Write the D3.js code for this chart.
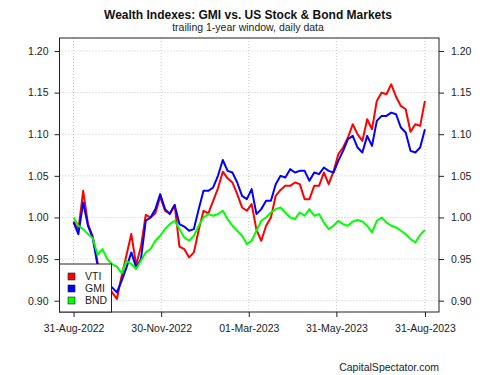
<!DOCTYPE html>
<html>
<head>
<meta charset="utf-8">
<script src="https://cdn.jsdelivr.net/npm/d3@7"></script>
<style>
  body { margin: 0; background: #fff; }
  svg { font-family: "Liberation Sans", Arial, sans-serif; }
</style>
</head>
<body>
<div id="chart-area"></div>
<script>
// Data (~5-day spacing)
var dates = [
  "2022-08-31","2022-09-05","2022-09-10","2022-09-15","2022-09-20","2022-09-25","2022-09-30",
  "2022-10-05","2022-10-10","2022-10-15","2022-10-20","2022-10-25","2022-10-30",
  "2022-11-04","2022-11-09","2022-11-14","2022-11-19","2022-11-24","2022-11-29",
  "2022-12-04","2022-12-09","2022-12-14","2022-12-19","2022-12-24","2022-12-29",
  "2023-01-03","2023-01-08","2023-01-13","2023-01-18","2023-01-23","2023-01-28",
  "2023-02-02","2023-02-07","2023-02-12","2023-02-17","2023-02-22","2023-02-27",
  "2023-03-04","2023-03-09","2023-03-14","2023-03-19","2023-03-24","2023-03-29",
  "2023-04-03","2023-04-08","2023-04-13","2023-04-18","2023-04-23","2023-04-28",
  "2023-05-03","2023-05-08","2023-05-13","2023-05-18","2023-05-23","2023-05-28",
  "2023-06-02","2023-06-07","2023-06-12","2023-06-17","2023-06-22","2023-06-27",
  "2023-07-02","2023-07-07","2023-07-12","2023-07-17","2023-07-22","2023-07-27",
  "2023-08-01","2023-08-06","2023-08-11","2023-08-16","2023-08-21","2023-08-26",
  "2023-08-31"
];

var vti = [
  0.995,0.985,1.032,0.992,0.977,0.945,0.930,
  0.920,0.910,0.902,0.930,0.955,0.980,
  0.943,0.965,1.003,1.000,1.005,1.025,
  1.008,1.005,1.015,0.965,0.962,0.952,
  0.958,0.985,1.008,1.005,1.020,1.035,
  1.055,1.047,1.042,1.028,1.012,1.008,
  1.016,0.985,0.972,0.990,1.000,1.026,
  1.033,1.038,1.038,1.042,1.040,1.022,
  1.022,1.038,1.038,1.054,1.040,1.055,
  1.076,1.084,1.096,1.112,1.100,1.092,
  1.118,1.106,1.140,1.150,1.148,1.160,
  1.145,1.134,1.130,1.103,1.112,1.110,
  1.140
];

var gmi = [
  0.994,0.980,1.018,0.990,0.975,0.942,0.932,
  0.916,0.916,0.910,0.924,0.940,0.958,
  0.940,0.950,0.996,1.000,1.010,1.028,
  1.010,1.004,1.015,0.992,0.989,0.984,
  0.986,1.010,1.032,1.032,1.036,1.050,
  1.069,1.056,1.054,1.042,1.026,1.022,
  1.034,1.004,1.010,1.020,1.020,1.040,
  1.050,1.048,1.058,1.054,1.056,1.056,
  1.044,1.054,1.052,1.060,1.056,1.054,
  1.068,1.080,1.094,1.098,1.084,1.078,
  1.098,1.086,1.116,1.122,1.122,1.126,
  1.124,1.108,1.102,1.080,1.078,1.084,
  1.106
];

var bnd = [
  1.000,0.990,0.986,0.980,0.975,0.955,0.962,
  0.950,0.944,0.941,0.933,0.948,0.944,
  0.938,0.948,0.958,0.962,0.972,0.978,
  0.986,0.992,0.996,0.986,0.976,0.972,
  0.978,0.990,1.000,1.004,1.002,1.004,
  1.008,0.998,0.990,0.984,0.978,0.968,
  0.972,0.984,0.996,1.000,1.006,1.010,
  1.012,1.006,1.000,0.998,1.006,1.002,
  1.010,1.002,1.004,0.994,0.986,0.990,
  0.996,0.992,0.990,0.995,0.997,0.995,
  0.990,0.982,0.996,1.000,0.994,0.990,
  0.988,0.984,0.980,0.974,0.970,0.979,
  0.985
];

var seriesNames = ["VTI", "GMI", "BND"];
var seriesColors = ["#ff0000", "#0000ff", "#00ff00"];
var yTicks = [0.90, 0.95, 1.00, 1.05, 1.10, 1.15, 1.20];
var xTickDates = ["2022-08-31", "2022-11-30", "2023-03-01", "2023-05-31", "2023-08-31"];

// Setup
var width = 500, height = 375;
var plot = { left: 59.5, right: 439, top: 38, bottom: 312 };

var parseDate = d3.timeParse("%Y-%m-%d");
var formatDate = d3.timeFormat("%d-%b-%Y");

var svg = d3.select("#chart-area")
  .append("svg")
    .attr("width", width)
    .attr("height", height);

var dateObjs = dates.map(parseDate);
var t0 = dateObjs[0].getTime(), t1 = dateObjs[dateObjs.length - 1].getTime();
var pad = (t1 - t0) * 0.04;

var x = d3.scaleTime()
  .domain([new Date(t0 - pad), new Date(t1 + pad)])
  .range([plot.left, plot.right]);

var y = d3.scaleLinear()
  .domain([0.8864, 1.2156])
  .range([plot.bottom, plot.top]);

// Grid
var grid = svg.append("g");
grid.selectAll(".hgrid")
  .data(yTicks)
  .enter().append("line")
    .attr("x1", plot.left).attr("x2", plot.right)
    .attr("y1", function(d) { return y(d); })
    .attr("y2", function(d) { return y(d); })
    .attr("stroke", "#c8c8c8")
    .attr("stroke-dasharray", "1,2");

grid.selectAll(".vgrid")
  .data(xTickDates.map(parseDate))
  .enter().append("line")
    .attr("x1", function(d) { return x(d); })
    .attr("x2", function(d) { return x(d); })
    .attr("y1", plot.top).attr("y2", plot.bottom)
    .attr("stroke", "#c8c8c8")
    .attr("stroke-dasharray", "1,2");

// Lines
var allSeries = [vti, gmi, bnd];
var line = d3.line()
  .x(function(d, i) { return x(dateObjs[i]); })
  .y(function(d) { return y(d); });

allSeries.forEach(function(values, i) {
  svg.append("path")
    .datum(values)
    .attr("fill", "none")
    .attr("stroke", seriesColors[i])
    .attr("stroke-width", 2)
    .attr("stroke-linejoin", "round")
    .attr("d", line);
});

// Axes
var leftAxis = d3.axisLeft(y).tickValues(yTicks).tickSize(5).tickPadding(6)
  .tickFormat(d3.format(".2f"));
var rightAxis = d3.axisRight(y).tickValues(yTicks).tickSize(5).tickPadding(7)
  .tickFormat(d3.format(".2f"));
var bottomAxis = d3.axisBottom(x).tickValues(xTickDates.map(parseDate)).tickSize(5)
  .tickPadding(8).tickFormat(formatDate);

function styleAxis(g) {
  g.select(".domain").remove();
  g.selectAll("line").attr("stroke", "#222");
  g.selectAll("text").attr("fill", "#222").attr("font-size", "10.5px")
    .attr("font-family", "'Liberation Sans', Arial, sans-serif");
}

svg.append("g").attr("transform", "translate(" + plot.left + ",0)").call(leftAxis).call(styleAxis);
svg.append("g").attr("transform", "translate(" + plot.right + ",0)").call(rightAxis).call(styleAxis);
svg.append("g").attr("transform", "translate(0," + plot.bottom + ")").call(bottomAxis).call(styleAxis);

// Plot box
svg.append("rect")
  .attr("x", plot.left).attr("y", plot.top)
  .attr("width", plot.right - plot.left)
  .attr("height", plot.bottom - plot.top)
  .attr("fill", "none")
  .attr("stroke", "#222")
  .attr("stroke-width", 1);

// Legend
var legend = svg.append("g");
legend.append("rect")
  .attr("x", plot.left).attr("y", 264)
  .attr("width", 52).attr("height", plot.bottom - 264)
  .attr("fill", "#fff")
  .attr("stroke", "#222");

seriesNames.forEach(function(name, i) {
  var ly = 276.5 + i * 12;
  legend.append("rect")
    .attr("x", 68).attr("y", ly - 3.5)
    .attr("width", 7).attr("height", 7)
    .attr("fill", seriesColors[i])
    .attr("stroke", "#222")
    .attr("stroke-width", 0.6);
  legend.append("text")
    .attr("x", 85).attr("y", ly + 3.8)
    .attr("font-size", "10.5px")
    .attr("fill", "#222")
    .text(name);
});

// Titles
svg.append("text")
  .attr("x", 248).attr("y", 18.5)
  .attr("text-anchor", "middle")
  .attr("font-size", "12px")
  .attr("font-weight", "bold")
  .attr("fill", "#111")
  .text("Wealth Indexes: GMI vs. US Stock & Bond Markets");

svg.append("text")
  .attr("x", 248).attr("y", 31)
  .attr("text-anchor", "middle")
  .attr("font-size", "10.5px")
  .attr("fill", "#222")
  .text("trailing 1-year window, daily data");

svg.append("text")
  .attr("x", 439).attr("y", 371)
  .attr("text-anchor", "end")
  .attr("font-size", "10.5px")
  .attr("fill", "#222")
  .text("CapitalSpectator.com");
</script>
</body>
</html>
